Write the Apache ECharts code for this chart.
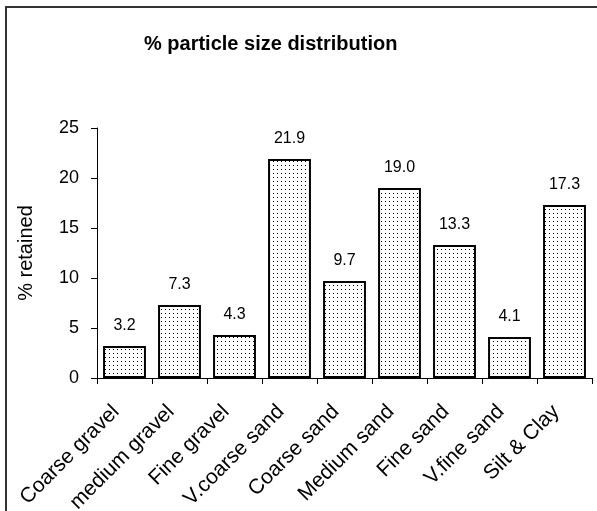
<!DOCTYPE html>
<html><head><meta charset="utf-8">
<script src="https://cdn.jsdelivr.net/npm/echarts@6/dist/echarts.min.js"></script>
<style>html,body{margin:0;padding:0;background:#fff}#c{width:597px;height:511px}</style>
</head><body><div id="c"></div>
<script>
const categories = ['Coarse gravel','medium gravel','Fine gravel','V.coarse sand','Coarse sand','Medium sand','Fine sand','V.fine sand','Silt & Clay'];
const retained = [3.2, 7.3, 4.3, 21.9, 9.7, 19.0, 13.3, 4.1, 17.3];
const yTicks = [0, 5, 10, 15, 20, 25];

const tile = document.createElement('canvas');
tile.width = 4; tile.height = 4;
const tc = tile.getContext('2d');
tc.fillStyle = '#fff'; tc.fillRect(0,0,4,4);
tc.fillStyle = '#000'; tc.fillRect(1,1,1,1);

const FF = 'Liberation Sans, Arial, sans-serif';
const chart = echarts.init(document.getElementById('c'), null, {renderer:'canvas'});
chart.setOption({
  animation:false,
  backgroundColor:'#fff',
  graphic:[{type:'rect',shape:{x:6,y:7,width:700,height:600},style:{fill:'none',stroke:'#333',lineWidth:2},z:-1}],
  title:{text:'% particle size distribution',left:139,top:29,
    textStyle:{fontFamily:FF,fontWeight:'bold',fontSize:20,color:'#000'}},
  grid:{left:97,right:5,top:128,bottom:133,containLabel:false,outerBoundsMode:'none'},
  xAxis:{type:'category',data:categories,
    axisLine:{lineStyle:{color:'#000',width:1}},
    axisTick:{show:true,alignWithLabel:false,length:6,lineStyle:{color:'#000'}},
    axisLabel:{rotate:45,interval:0,margin:22,padding:[0,12,0,0],fontFamily:FF,fontSize:21,color:'#000'}},
  yAxis:{type:'value',min:0,max:25,interval:5,
    name:'% retained',nameLocation:'middle',nameGap:61,nameRotate:90,
    nameTextStyle:{fontFamily:FF,fontSize:20,color:'#000'},
    axisLine:{show:true,lineStyle:{color:'#000',width:1}},
    axisTick:{show:true,length:6,lineStyle:{color:'#000'}},
    splitLine:{show:false},
    axisLabel:{margin:18,fontFamily:FF,fontSize:18,color:'#000',
      formatter:v=>yTicks.includes(v)?String(v):''}},
  series:[{type:'bar',data:retained,barCategoryGap:'22%',
    itemStyle:{color:{image:tile,repeat:'repeat'},borderColor:'#000',borderWidth:2},
    label:{show:true,position:'top',distance:12,fontFamily:FF,fontSize:16,color:'#000',
      formatter:p=>p.value.toFixed(1)}}]
});
</script></body></html>
